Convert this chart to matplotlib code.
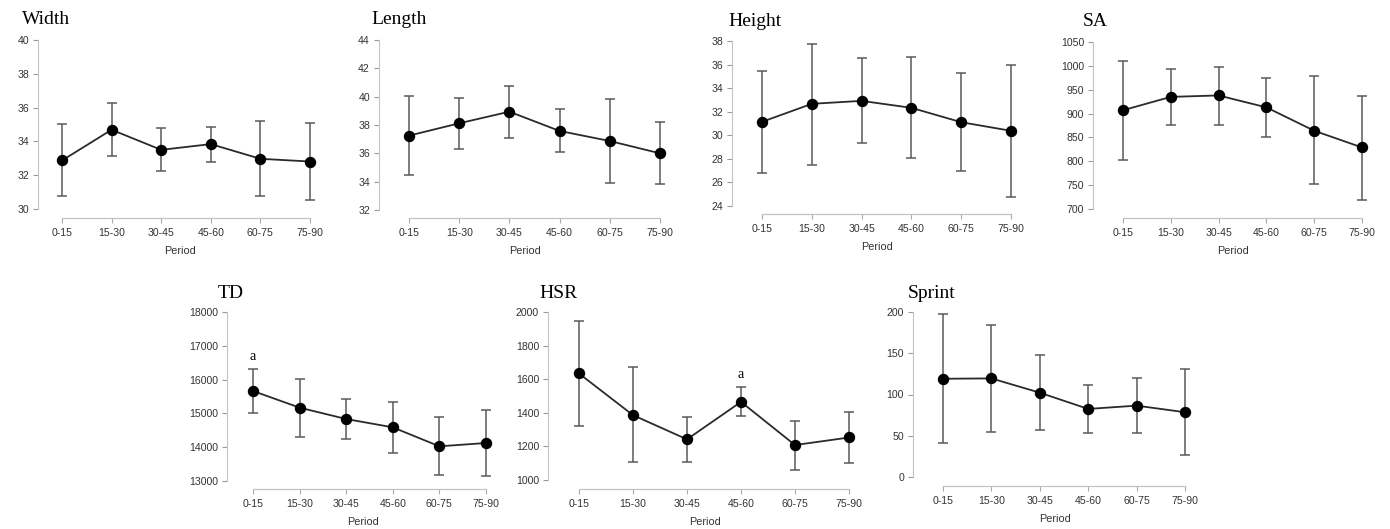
import matplotlib
matplotlib.use("Agg")
import matplotlib.pyplot as plt
import numpy as np

periods = ["0-15", "15-30", "30-45", "45-60", "60-75", "75-90"]

width_mean = [32.87, 34.69, 33.50, 33.84, 32.97, 32.81]
width_lo = [30.75, 33.11, 32.22, 32.78, 30.79, 30.53]
width_hi = [35.04, 36.26, 34.82, 34.88, 35.22, 35.08]

length_mean = [37.25, 38.12, 38.94, 37.58, 36.87, 36.00]
length_lo = [34.47, 36.31, 37.11, 36.07, 33.93, 33.81]
length_hi = [40.05, 39.93, 40.78, 39.11, 39.84, 38.24]

height_mean = [31.14, 32.67, 32.92, 32.33, 31.11, 30.38]
height_lo = [26.77, 27.50, 29.31, 28.04, 26.94, 24.79]
height_hi = [35.46, 37.77, 36.56, 36.62, 35.29, 35.97]

sa_mean = [907, 935, 938, 913, 864, 829]
sa_lo = [803, 876, 877, 851, 752, 719]
sa_hi = [1010, 994, 998, 975, 978, 937]

td_mean = [15663, 15170, 14834, 14588, 14026, 14124]
td_lo = [15012, 14302, 14252, 13819, 13176, 13138]
td_hi = [16323, 16028, 15416, 15347, 14884, 15101]

hsr_mean = [1634, 1386, 1242, 1465, 1208, 1253]
hsr_lo = [1321, 1105, 1107, 1380, 1061, 1101]
hsr_hi = [1947, 1673, 1374, 1554, 1352, 1404]

sprint_mean = [119.1, 119.5, 102.2, 82.5, 86.5, 78.5]
sprint_lo = [41.0, 55.0, 56.7, 53.9, 53.1, 26.6]
sprint_hi = [197.6, 184.7, 147.3, 111.9, 120.3, 130.8]

titles = ["Width", "Length", "Height", "SA", "TD", "HSR", "Sprint"]
y_ticks = [
    [30, 32, 34, 36, 38, 40],
    [32, 34, 36, 38, 40, 42, 44],
    [24, 26, 28, 30, 32, 34, 36, 38],
    [700, 750, 800, 850, 900, 950, 1000, 1050],
    [13000, 14000, 15000, 16000, 17000, 18000],
    [1000, 1200, 1400, 1600, 1800, 2000],
    [0, 50, 100, 150, 200],
]
series = [
    (width_mean, width_lo, width_hi),
    (length_mean, length_lo, length_hi),
    (height_mean, height_lo, height_hi),
    (sa_mean, sa_lo, sa_hi),
    (td_mean, td_lo, td_hi),
    (hsr_mean, hsr_lo, hsr_hi),
    (sprint_mean, sprint_lo, sprint_hi),
]
# significance marks: panel index -> period index
sig_marks = {4: 0, 5: 3}

# layout in pixels: spine x, first cat x, last cat x, top tick y, bottom tick y, x-spine y, title x, title y
layout = [
    (38, 62, 310, 40, 209, 218, 22, 20),
    (379, 409, 660, 40, 210, 218, 371, 20),
    (732, 762, 1011, 41, 206, 214, 728, 22),
    (1093, 1123, 1362, 42, 209, 218, 1083, 22),
    (227, 253, 486, 312, 481, 489, 218, 293),
    (548, 579, 849, 312, 480, 489, 539, 293),
    (913, 943, 1185, 312, 477, 486, 908, 293),
]

W, H, DPI = 1390, 529, 100
fig = plt.figure(figsize=(W / DPI, H / DPI), dpi=DPI)
fig.patch.set_facecolor("white")

pt = 72.0 / DPI
tick_color = "#333333"
spine_color = "#c4c4c4"
sans = "Liberation Sans"

for i, (title, ticks, (m, lo, hi), lay) in enumerate(zip(titles, y_ticks, series, layout)):
    xs, x0, x5, ytop, ybot, yx, tx, ty = lay
    pad = 12
    ax = fig.add_axes([xs / W, 1 - ybot / H, (x5 + pad - xs) / W, (ybot - ytop) / H])
    step = (x5 - x0) / 5.0
    ax.set_xlim(-(x0 - xs) / step, 5 + pad / step)
    ax.set_ylim(ticks[0], ticks[-1])
    x = np.arange(len(periods))
    m = np.array(m, dtype=float)
    lo = np.array(lo, dtype=float)
    hi = np.array(hi, dtype=float)
    ax.errorbar(x, m, yerr=[m - lo, hi - m], fmt="none", ecolor="#5a5a5a",
                elinewidth=1.1, capsize=3.8, capthick=1.1, zorder=2, clip_on=False)
    ax.plot(x, m, color="#2a2a2a", lw=1.3, marker="o", ms=7.2, mfc="black",
            mec="black", zorder=3, clip_on=False)
    for side in ["top", "right"]:
        ax.spines[side].set_visible(False)
    ax.spines["left"].set_color(spine_color)
    ax.spines["bottom"].set_color(spine_color)
    ax.spines["left"].set_linewidth(0.8)
    ax.spines["bottom"].set_linewidth(0.9)
    ax.spines["left"].set_bounds(ticks[0], ticks[-1])
    ax.spines["bottom"].set_bounds(0, 5)
    ax.spines["bottom"].set_position(("outward", (yx - ybot) * pt))
    ax.set_yticks(ticks)
    ax.set_yticklabels([str(t) for t in ticks], family=sans)
    ax.set_xticks(x)
    ax.set_xticklabels(periods, family=sans)
    ax.tick_params(axis="both", labelsize=7.6, colors=tick_color, length=3.5,
                   width=0.8, pad=3)
    ax.tick_params(axis="y", color="#999999")
    ax.tick_params(axis="x", color="#aaaaaa", pad=3.5)
    ax.set_xlabel("Period", fontsize=7.8, color=tick_color, labelpad=6, family=sans)
    ax.patch.set_alpha(0)
    fig.text(tx / W, 1 - ty / H, title, fontsize=14, family="Liberation Serif",
             ha="left", va="center", color="black")
    if i in sig_marks:
        k = sig_marks[i]
        ax.annotate("a", (k, hi[k]), xytext=(0, 4), textcoords="offset points",
                    ha="center", va="bottom", fontsize=10,
                    family="Liberation Serif", color="black")

fig.savefig("out.png", dpi=DPI, facecolor="white")
